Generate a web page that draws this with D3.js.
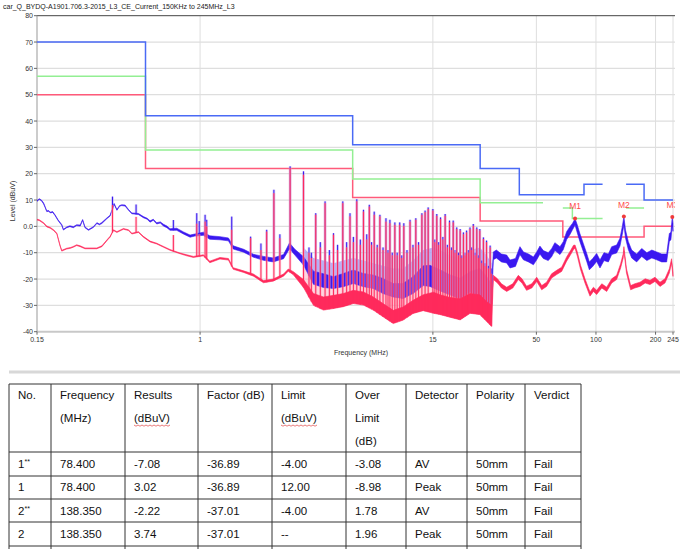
<!DOCTYPE html>
<html>
<head>
<meta charset="utf-8">
<script src="https://cdn.jsdelivr.net/npm/d3@7"></script>
<style>
body { margin: 0; background: #fff; }
svg { display: block; font-family: "Liberation Sans", Arial, sans-serif; }
</style>
</head>
<body>
<script>
// chart title and axes
const chartTitle = "car_Q_BYDQ-A1901.706.3-2015_L3_CE_Current_150KHz to 245MHz_L3";
const yTicks = [80, 70, 60, 50, 40, 30, 20, 10, 0, -10, -20, -30, -40];
const xTicks = [0.15, 1, 15, 50, 100, 200, 245];
const xGrid = [1, 15, 50, 100, 200, 245];

// limit lines: [fStart, fEnd, level]
const peakLimit = [[0.15, 0.53, 70], [0.53, 5.9, 42], [5.9, 26, 31], [26, 41, 22], [41, 87, 12], [87, 108, 16], [142, 175, 16], [175, 245, 10]];
const qpLimit = [[0.15, 0.53, 57], [0.53, 5.9, 29], [5.9, 26, 18], [26, 54, 9], [68, 76, 7], [76, 108, 3], [142, 175, 7]];
const avgLimit = [[0.15, 0.53, 50], [0.53, 5.9, 22], [5.9, 26, 11], [26, 68, 2], [68, 175, -4], [175, 245, 0]];

// traces: [freq, low, high] of the plotted band
const peakTrace = [
  [0.150, 9.5, 9.8], [0.154, 10.2, 10.5], [0.158, 9.7, 10.0], [0.162, 8.5, 8.9], [0.165, 7.1, 7.4],
  [0.168, 5.6, 5.9], [0.172, 5.7, 6.0], [0.175, 5.1, 5.4], [0.180, 5.3, 5.6], [0.185, 4.1, 4.4],
  [0.192, 2.1, 2.4], [0.200, 0.4, 0.7], [0.204, -1.4, -1.1], [0.212, -0.5, -0.2], [0.220, -0.1, 0.2],
  [0.229, -0.5, -0.1], [0.238, 0.3, 0.6], [0.248, 0.1, 0.5], [0.255, 2.3, 2.6], [0.262, -0.5, -0.2],
  [0.273, -1.5, -1.2], [0.289, -0.4, -0.1], [0.301, 1.1, 1.4], [0.310, 0.6, 0.9], [0.319, 1.1, 1.5],
  [0.338, 2.9, 3.2], [0.351, 3.9, 4.2], [0.368, 8.3, 8.7], [0.380, 6.1, 6.4], [0.392, 7.6, 7.9],
  [0.402, 7.9, 8.2], [0.418, 7.7, 8.1], [0.435, 6.1, 6.4], [0.452, 4.8, 5.1], [0.488, 4.5, 4.9],
  [0.517, 3.3, 3.7], [0.540, 2.7, 3.1], [0.559, 1.6, 2.1], [0.580, 2.3, 2.7], [0.604, 0.9, 1.4],
  [0.630, 1.3, 1.7], [0.653, 0.1, 0.8], [0.680, -0.5, 0.1], [0.705, -1.5, -0.9], [0.762, -1.5, -0.7],
  [0.824, -2.9, -2.1], [0.890, -4.1, -3.3], [0.940, -3.7, -2.9], [1.04, -3.4, -2.2], [1.12, -4.9, -3.6],
  [1.26, -5.1, -3.9], [1.39, -5.5, -4.4], [1.47, -8.6, -7.4], [1.66, -9.8, -8.7], [1.86, -11.7, -10.6],
  [2.09, -12.9, -11.4], [2.34, -13.5, -12.0], [2.64, -12.3, -10.7], [2.83, -8.5, -6.3], [3.02, -11.0, -8.8],
  [3.33, -14.7, -11.5], [3.74, -22.0, -17.0], [4.20, -23.2, -18.0], [4.72, -23.6, -19.1], [5.29, -22.9, -17.9],
  [5.95, -21.7, -16.6], [6.69, -22.9, -17.9], [7.50, -23.6, -18.5], [8.40, -25.5, -19.8], [9.46, -26.8, -21.7],
  [10.6, -27.4, -21.7], [11.9, -25.5, -19.1], [13.4, -22.5, -15.0], [14.5, -22.8, -14.8], [16.3, -24.5, -16.5],
  [18.3, -26.0, -18.4], [20.6, -27.5, -19.7], [23.1, -25.0, -17.2], [25.9, -26.5, -16.0], [28.0, -30.0, -19.0],
  [29.7, -29.6, -21.9], [30.3, -12.7, -9.7], [31.4, -12.0, -9.0], [33.3, -13.5, -10.5], [35.4, -13.9, -10.9],
  [36.8, -15.8, -12.8], [39.2, -15.2, -12.2], [41.3, -10.7, -7.7], [43.0, -12.7, -9.7], [45.6, -13.5, -10.5],
  [48.3, -14.6, -11.6], [50.2, -12.7, -9.7], [52.1, -10.5, -7.5], [54.2, -12.2, -9.2], [57.4, -13.0, -10.0],
  [59.7, -11.5, -8.5], [62.0, -9.2, -6.2], [65.8, -10.7, -7.7], [68.4, -8.8, -5.8], [71.1, -5.0, -2.0],
  [73.9, -3.1, -0.1], [76.2, -1.2, 1.2], [78.4, 0.5, 3.0], [80.5, -2.5, 0.5], [82.9, -5.7, -2.7],
  [86.3, -9.5, -6.5], [89.8, -13.3, -10.3], [92.6, -16.5, -13.5], [96.3, -15.2, -12.2], [100.8, -13.3, -10.3],
  [104.8, -15.8, -12.8], [109.8, -13.0, -10.0], [115.5, -13.5, -10.5], [120.1, -10.7, -7.7], [127.2, -10.1, -7.1],
  [132.2, -7.5, -4.5], [135.8, -3.1, -0.1], [138.4, 0.5, 3.7], [141.0, -4.4, -1.4], [145.7, -8.8, -5.8],
  [151.5, -12.0, -9.0], [160.5, -13.5, -10.5], [170.3, -11.4, -8.4], [180.7, -13.0, -10.0], [191.5, -12.0, -9.0],
  [202.6, -12.7, -9.7], [214.8, -13.5, -10.5], [227.6, -13.5, -10.5], [234.8, -5.7, -2.7], [239.2, -5.1, -2.1],
  [242.8, 0.6, 3.6], [245.0, -1.9, 1.1]
];

const avgTrace = [
  [0.150, 2.4, 2.7], [0.154, 2.2, 2.5], [0.162, 1.1, 1.4], [0.168, -0.2, 0.1], [0.175, -0.7, -0.4],
  [0.182, -1.6, -1.3], [0.189, -2.9, -2.6], [0.196, -7.4, -7.1], [0.200, -9.4, -9.1], [0.212, -8.6, -8.3],
  [0.222, -8.3, -8.0], [0.229, -7.9, -7.6], [0.238, -7.3, -7.0], [0.248, -7.7, -7.4], [0.262, -8.5, -8.2],
  [0.281, -8.5, -8.2], [0.301, -8.5, -8.2], [0.319, -7.7, -7.4], [0.344, -4.8, -4.5], [0.351, -4.1, -3.8],
  [0.365, -1.6, -1.3], [0.380, -2.3, -2.0], [0.410, -1.1, -0.8], [0.435, -1.6, -1.3], [0.452, -2.9, -2.6],
  [0.488, -2.3, -2.0], [0.517, -4.1, -3.8], [0.559, -5.9, -5.6], [0.604, -6.7, -6.4], [0.653, -7.9, -7.6],
  [0.705, -9.1, -8.8], [0.792, -10.4, -10.1], [0.857, -11.2, -10.8], [0.925, -11.8, -11.4], [1.04, -11.2, -10.8],
  [1.12, -13.8, -13.2], [1.26, -12.4, -11.8], [1.39, -12.8, -12.2], [1.47, -16.3, -15.7], [1.66, -17.5, -16.9],
  [1.86, -18.9, -18.1], [2.09, -21.4, -20.6], [2.34, -20.8, -20.0], [2.64, -18.9, -18.1], [2.79, -17.0, -16.2],
  [2.96, -18.4, -17.2], [3.33, -23.2, -20.2], [3.74, -30.0, -25.5], [4.20, -31.8, -26.8], [4.72, -31.2, -26.2],
  [5.29, -30.5, -25.5], [5.95, -29.3, -24.3], [6.69, -29.9, -24.9], [7.50, -31.8, -26.8], [8.40, -34.3, -29.3],
  [9.46, -36.9, -31.9], [10.6, -35.6, -30.6], [11.9, -33.1, -28.1], [13.4, -32.0, -26.0], [15.1, -33.0, -25.0],
  [16.3, -33.5, -26.0], [18.3, -34.5, -27.0], [20.6, -35.5, -27.5], [23.1, -33.0, -25.5], [25.9, -33.5, -26.0],
  [28.0, -36.0, -28.5], [29.7, -38.0, -30.0], [30.3, -20.2, -18.6], [31.8, -21.5, -19.9], [33.3, -23.4, -21.8],
  [35.4, -24.7, -23.1], [38.0, -23.4, -21.8], [40.5, -20.2, -18.6], [42.3, -21.5, -19.9], [44.6, -24.3, -22.7],
  [47.4, -23.4, -21.8], [50.2, -20.9, -19.3], [53.2, -24.1, -22.5], [56.3, -22.8, -21.2], [59.7, -19.6, -18.0],
  [63.3, -18.3, -16.7], [67.1, -17.1, -15.5], [71.1, -13.2, -11.6], [74.5, -10.7, -9.1], [77.0, -8.8, -7.2],
  [78.4, -8.3, -7.1], [80.5, -11.3, -9.7], [83.6, -16.4, -14.8], [88.0, -21.5, -19.9], [93.3, -26.5, -24.9],
  [97.1, -24.7, -23.1], [100.8, -25.9, -24.3], [107.0, -23.4, -21.8], [113.3, -24.7, -23.1], [120.1, -21.5, -19.9],
  [127.2, -20.2, -18.6], [133.2, -15.8, -14.2], [137.3, -12.0, -10.4], [138.4, -9.3, -7.7], [142.6, -17.7, -16.1],
  [149.7, -24.1, -22.5], [157.1, -23.4, -21.8], [166.9, -22.8, -21.2], [177.2, -21.5, -19.9], [187.5, -22.1, -20.5],
  [198.7, -20.9, -19.3], [210.6, -22.8, -21.2], [223.2, -21.5, -19.9], [234.8, -17.7, -16.1], [240.9, -13.9, -12.3],
  [245.0, -19.0, -17.4]
];

// light haze of dense harmonics above each trace: [freq, low, high]
const peakHaze = [
  [3.33, -14.0, -8.0], [3.74, -20.0, -12.0], [4.20, -21.0, -13.0], [4.72, -22.0, -14.0], [5.29, -21.0, -13.0],
  [5.95, -20.0, -12.0], [6.69, -21.0, -13.0], [7.50, -22.0, -14.0], [8.40, -23.0, -15.0], [9.46, -24.0, -16.0],
  [10.6, -24.0, -16.0], [11.9, -22.0, -13.0], [13.4, -19.0, -9.0], [15.1, -19.0, -8.0], [16.3, -21.0, -9.0],
  [18.3, -22.0, -11.0], [20.6, -23.0, -12.0], [23.1, -21.0, -9.0], [25.9, -21.0, -8.0], [28.0, -24.0, -11.0],
  [29.7, -25.0, -14.0]
];
const avgHaze = [
  [3.33, -22.0, -13.0], [3.74, -28.0, -17.0], [4.20, -30.0, -18.0], [4.72, -30.0, -19.0], [5.29, -29.0, -18.0],
  [5.95, -28.0, -17.0], [6.69, -29.0, -18.0], [7.50, -30.0, -19.0], [8.40, -32.0, -20.0], [9.46, -34.0, -21.0],
  [10.6, -33.0, -21.0], [11.9, -31.0, -18.0], [13.4, -29.0, -14.0], [15.1, -30.0, -13.0], [16.3, -31.0, -14.0],
  [18.3, -32.0, -16.0], [20.6, -33.0, -17.0], [23.1, -31.0, -14.0], [25.9, -31.0, -13.0], [28.0, -34.0, -16.0],
  [29.7, -36.0, -19.0]
];

// narrow harmonics: [freq, peak top, average top]
const spikes = [
  [0.361, 11.3, 8.1], [0.475, 8.3, 3.6], [0.733, 2.4, -3.3], [0.962, 5.0, 1.0], [0.99, 2.0, -3.0],
  [1.06, 4.4, 1.8], [1.08, 2.5, 0.0], [1.445, 3.7, -1.3], [1.80, -3.9, -4.5], [2.03, -6.5, -9.0],
  [2.17, -1.3, -2.0], [2.36, 13.9, 12.6], [2.53, -3.0, -4.5], [2.85, 22.8, 22.2], [3.33, 20.9, 19.6],
  [3.55, -8.0, -10.0], [3.65, -10.0, -12.0], [3.84, 5.0, 4.4], [4.05, -6.0, -8.0], [4.28, 9.5, 8.8],
  [4.50, -9.0, -11.0], [4.72, -2.6, -3.2], [4.95, -7.0, -9.0], [5.26, 9.5, 8.8], [5.50, -6.0, -8.0],
  [5.72, 5.0, 3.8], [5.95, -4.0, -6.0], [6.19, 10.3, 9.5], [6.45, -5.0, -7.0], [6.69, 6.3, 5.6],
  [6.95, -3.0, -5.0], [7.16, 8.2, 7.5], [7.35, -6.0, -7.0], [7.58, 5.6, 4.4], [7.85, -7.0, -8.0],
  [8.10, 4.4, 3.8], [8.40, -8.0, -9.0], [8.69, 3.1, 1.8], [8.90, -9.0, -10.0], [9.10, 2.5, 1.2],
  [9.35, -10.0, -11.0], [9.64, 1.5, 0.6], [9.90, -10.0, -11.0], [10.2, 1.5, 0.6], [10.45, -11.0, -12.0],
  [10.7, 1.2, 0.2], [11.1, -9.0, -10.0], [11.5, 2.5, 1.8], [11.9, -7.0, -8.0], [12.3, 3.1, 2.5],
  [12.7, -6.0, -7.0], [13.2, 5.0, 4.4], [13.7, 6.0, 5.4], [14.2, 7.2, 6.6], [15.0, 6.6, 6.0],
  [15.35, -5.0, -6.0], [15.7, 4.7, 4.0], [16.05, -6.0, -7.0], [16.4, 3.4, 2.8], [16.85, -4.0, -5.0],
  [17.3, 4.7, 4.0], [17.75, -7.0, -8.0], [18.2, 2.2, 1.5], [18.6, -8.0, -9.0], [19.0, 2.2, 1.5],
  [19.4, -9.0, -10.0], [19.8, -0.4, -1.0], [20.2, -10.0, -11.0], [20.6, -1.0, -1.6], [21.0, -11.0, -12.0],
  [21.4, -2.3, -3.0], [21.8, -10.0, -11.0], [22.2, -1.6, -2.3], [22.65, -9.0, -10.0], [23.1, -0.4, -1.0],
  [23.55, -8.0, -9.0], [24.0, 0.9, 0.2], [24.5, -10.0, -11.0], [25.0, -0.4, -1.0], [25.45, -11.0, -12.0],
  [25.9, -1.0, -1.6], [26.5, -13.0, -14.0], [27.0, -4.2, -4.8], [27.5, -14.0, -15.0], [28.0, -5.4, -6.0],
  [28.6, -15.0, -16.0], [29.2, -7.3, -8.0], [29.6, -16.0, -18.0]
];

// final measurement markers
const markerNames = ["M1", "M2", "M3"];
const markerFreqs = [78.4, 138.35, 243.0];
const markerLevels = [3.02, 3.74, 3.6];

// result table
const tableHeader = [["No."], ["Frequency", "(MHz)"], ["Results", "(dBuV)"], ["Factor (dB)"], ["Limit", "(dBuV)"], ["Over", "Limit", "(dB)"], ["Detector"], ["Polarity"], ["Verdict"]];
const tableRows = [
  ["1**", "78.400", "-7.08", "-36.89", "-4.00", "-3.08", "AV", "50mm", "Fail"],
  ["1", "78.400", "3.02", "-36.89", "12.00", "-8.98", "Peak", "50mm", "Fail"],
  ["2**", "138.350", "-2.22", "-37.01", "-4.00", "1.78", "AV", "50mm", "Fail"],
  ["2", "138.350", "3.74", "-37.01", "--", "1.96", "Peak", "50mm", "Fail"]
];

var width = 680, height = 549;
var x0 = 37, x1 = 673, yTop = 15.7, yBot = 331.7;

var svg = d3.select("body").append("svg")
    .attr("width", width)
    .attr("height", height);

var x = d3.scaleLog().domain([0.15, 245]).range([x0, x1]);
var y = d3.scaleLinear().domain([-40, 80]).range([yBot, yTop]);

svg.append("defs").append("clipPath").attr("id", "plot")
  .append("rect").attr("x", x0).attr("y", yTop - 14).attr("width", 675 - x0).attr("height", yBot - yTop + 14);

svg.append("text")
    .attr("x", 3).attr("y", 9)
    .attr("font-size", 7).attr("fill", "#222")
    .text(chartTitle);

// grid
svg.append("g").selectAll("line")
    .data(yTicks.filter(d => d !== 80 && d !== -40))
  .enter().append("line")
    .attr("x1", x0).attr("x2", 675)
    .attr("y1", d => y(d)).attr("y2", d => y(d))
    .attr("stroke", "#dedede").attr("stroke-width", 1.3);

svg.append("g").selectAll("line")
    .data(xGrid)
  .enter().append("line")
    .attr("x1", d => x(d)).attr("x2", d => x(d))
    .attr("y1", yTop).attr("y2", yBot)
    .attr("stroke", "#dedede").attr("stroke-width", 1);

// frame
svg.append("line").attr("x1", x0).attr("x2", 675).attr("y1", yTop).attr("y2", yTop)
    .attr("stroke", "#444").attr("stroke-width", 1);
svg.append("line").attr("x1", x0).attr("x2", 675).attr("y1", yBot).attr("y2", yBot)
    .attr("stroke", "#c8c8c8").attr("stroke-width", 2);
svg.append("line").attr("x1", x0).attr("x2", x0).attr("y1", yTop).attr("y2", yBot)
    .attr("stroke", "#999").attr("stroke-width", 1);

// y axis ticks
var yAxis = svg.append("g").attr("font-size", 7).attr("fill", "#333");
yAxis.selectAll("line").data(yTicks).enter().append("line")
    .attr("x1", x0 - 3).attr("x2", x0).attr("y1", d => y(d)).attr("y2", d => y(d))
    .attr("stroke", "#666");
yAxis.selectAll("text").data(yTicks).enter().append("text")
    .attr("x", x0 - 4).attr("y", d => y(d) + 2.5)
    .attr("text-anchor", "end")
    .text(d => d === 0 ? "0.0" : d);

var xAxis = svg.append("g").attr("font-size", 7).attr("fill", "#333");
xAxis.selectAll("line").data(xTicks).enter().append("line")
    .attr("x1", d => x(d)).attr("x2", d => x(d)).attr("y1", yBot).attr("y2", yBot + 3)
    .attr("stroke", "#666");
xAxis.selectAll("text").data(xTicks).enter().append("text")
    .attr("x", d => x(d)).attr("y", yBot + 10)
    .attr("text-anchor", "middle")
    .text(d => d);

svg.append("text").attr("x", 361).attr("y", 355)
    .attr("text-anchor", "middle").attr("font-size", 7).attr("fill", "#333")
    .text("Frequency (MHz)");
svg.append("text")
    .attr("transform", "translate(15,201) rotate(-90)")
    .attr("text-anchor", "middle").attr("font-size", 7).attr("fill", "#333")
    .text("Level (dBuV)");

// limits
function stepPoints(segs) {
  var pts = [];
  segs.forEach(function(s, i) {
    var prev = segs[i - 1];
    if (prev && prev[1] !== s[0]) pts.push(null);
    pts.push([s[0], s[2]]);
    pts.push([s[1], s[2]]);
  });
  return pts;
}
var stepLine = d3.line().defined(d => d !== null).x(d => x(d[0])).y(d => y(d[1]));

var plot = svg.append("g").attr("clip-path", "url(#plot)");

[[avgLimit, "#ff5a7a"], [qpLimit, "#93ef93"], [peakLimit, "#4a6af5"]].forEach(function(l) {
  plot.append("path")
      .attr("d", stepLine(stepPoints(l[0])))
      .attr("fill", "none").attr("stroke", l[1]).attr("stroke-width", 1.5);
});

// traces
function loAt(trace, f) {
  var i = d3.bisector(d => d[0]).left(trace, f);
  var a = trace[Math.max(0, i - 1)], b = trace[Math.min(trace.length - 1, i)];
  if (a === b) return a[1];
  var t = (Math.log(f) - Math.log(a[0])) / (Math.log(b[0]) - Math.log(a[0]));
  return a[1] + t * (b[1] - a[1]);
}

var band = d3.area().x(d => x(d[0])).y0(d => y(d[1])).y1(d => y(d[2]));

function drawHaze(haze, col, op) {
  plot.append("path").attr("d", band(haze)).attr("fill", col).attr("opacity", op);
}
function drawSpikes(trace, col, width, op, top) {
  plot.append("g").selectAll("line").data(spikes).enter().append("line")
      .attr("x1", d => x(d[0])).attr("x2", d => x(d[0]))
      .attr("y1", d => y(loAt(trace, d[0]))).attr("y2", d => y(d[top]))
      .attr("stroke", col).attr("stroke-width", width).attr("opacity", op);
}
function drawBand(trace, col) {
  plot.append("path").attr("d", band(trace))
      .attr("fill", col).attr("stroke", col).attr("stroke-width", 0.6)
      .attr("stroke-linejoin", "round");
}

drawHaze(peakHaze, "#a89cf4", 0.8);
drawHaze(avgHaze, "#ffa3ba", 0.45);
drawSpikes(peakTrace, "#a89cf4", 2.6, 0.55, 1);
drawBand(peakTrace, "#3a18f0");
drawSpikes(peakTrace, "#3a18f0", 1, 1, 1);
drawSpikes(avgTrace, "#ffa3ba", 2.6, 0.55, 2);
drawBand(avgTrace, "#ff2a5c");
drawSpikes(avgTrace, "#ff2a5c", 1, 1, 2);

// markers
var mk = plot.append("g");
markerNames.forEach(function(n, i) {
  mk.append("circle").attr("cx", x(markerFreqs[i])).attr("cy", y(markerLevels[i]))
      .attr("r", 2).attr("fill", "#f03a3a");
  mk.append("text").attr("x", x(markerFreqs[i])).attr("y", y(markerLevels[i]) - 9)
      .attr("text-anchor", "middle").attr("font-size", 8.5).attr("fill", "#ff4a4a")
      .text(n);
});

// table
svg.append("rect").attr("x", 9).attr("y", 370.5).attr("width", 671).attr("height", 3).attr("fill", "#d8d8d8");

var colX = [9, 51, 125, 198, 272, 346, 406, 467, 525, 581];
var rowY = [384, 452, 476, 499, 522, 546];
var tbl = svg.append("g").attr("font-size", 11.5).attr("fill", "#111");

rowY.forEach(function(r) {
  tbl.append("line").attr("x1", colX[0]).attr("x2", colX[colX.length - 1])
      .attr("y1", r).attr("y2", r).attr("stroke", "#333").attr("stroke-width", 1);
});
colX.forEach(function(c) {
  tbl.append("line").attr("x1", c).attr("x2", c).attr("y1", rowY[0]).attr("y2", height)
      .attr("stroke", "#333").attr("stroke-width", 1);
});

tableHeader.forEach(function(cell, ci) {
  cell.forEach(function(t, li) {
    var tx = tbl.append("text").attr("x", colX[ci] + 9).attr("y", 399 + li * 23).text(t);
    if (t === "(dBuV)") {
      var w = tx.node().getComputedTextLength();
      var pts = [];
      for (var k = 0; k <= Math.round(w / 2); k++) pts.push([colX[ci] + 9 + k * 2, 399 + li * 23 + 3 + (k % 2 ? 1.2 : 0)]);
      tbl.append("path").attr("d", d3.line()(pts)).attr("fill", "none").attr("stroke", "#e04040").attr("stroke-width", 0.7);
    }
  });
});

var rowBase = [468, 491, 515, 538];
tableRows.forEach(function(row, ri) {
  row.forEach(function(t, ci) {
    var tx = tbl.append("text").attr("x", colX[ci] + 9).attr("y", rowBase[ri]);
    if (t.indexOf("**") > 0) {
      tx.append("tspan").text(t.replace("**", ""));
      tx.append("tspan").attr("font-size", 7).attr("dy", -4).text("**");
    } else {
      tx.text(t);
    }
  });
});
</script>
</body>
</html>
